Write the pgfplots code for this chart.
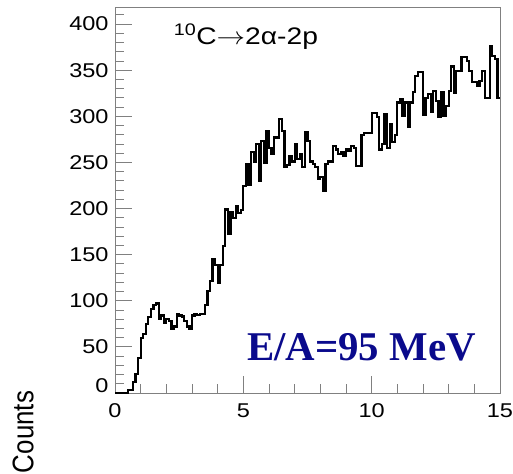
\documentclass[border=0pt]{standalone}
\usepackage{fontspec}
\setmainfont{Liberation Sans}[FakeStretch=1.18]
\newfontfamily\plainsans{Liberation Sans}
\newfontfamily\serifface{Liberation Serif}
\usepackage{graphicx}
\usepackage{pgfplots}
\usepackage{pgfplotstable}
\pgfplotsset{compat=1.18}
\definecolor{axisgray}{gray}{0.5}
\definecolor{energyblue}{RGB}{10,10,140}

% counts per 0.1 bin (left bin edge, content); last row closes the final bin
\pgfplotstableread{
x y
0.0 0
0.1 0
0.2 0
0.3 0
0.4 0
0.5 3
0.6 3
0.7 12
0.8 21
0.9 38
1.0 60
1.1 64
1.2 75
1.3 82
1.4 91
1.5 95
1.6 97
1.7 80
1.8 84
1.9 76
2.0 80
2.1 78
2.2 70
2.3 72
2.4 86
2.5 84
2.6 83
2.7 78
2.8 72
2.9 70
3.0 84
3.1 86
3.2 85
3.3 86
3.4 86
3.5 95
3.6 111
3.7 121
3.8 145
3.9 139
4.0 119
4.1 139
4.2 159
4.3 199
4.4 172
4.5 196
4.6 190
4.7 203
4.8 195
4.9 198
5.0 224
5.1 248
5.2 226
5.3 261
5.4 251
5.5 270
5.6 230
5.7 273
5.8 250
5.9 284
6.0 266
6.1 259
6.2 277
6.3 277
6.4 297
6.5 284
6.6 245
6.7 247
6.8 257
6.9 251
7.0 270
7.1 254
7.2 259
7.3 245
7.4 283
7.5 273
7.6 251
7.7 248
7.8 245
7.9 232
8.0 234
8.1 219
8.2 248
8.3 251
8.4 251
8.5 268
8.6 264
8.7 259
8.8 261
8.9 257
9.0 264
9.1 262
9.2 268
9.3 266
9.4 246
9.5 246
9.6 280
9.7 282
9.8 282
9.9 282
10.0 304
10.1 304
10.2 299
10.3 264
10.4 270
10.5 302
10.6 266
10.7 291
10.8 272
10.9 280
11.0 315
11.1 319
11.2 300
11.3 315
11.4 289
11.5 315
11.6 326
11.7 344
11.8 348
11.9 348
12.0 302
12.1 320
12.2 324
12.3 305
12.4 327
12.5 317
12.6 299
12.7 326
12.8 300
12.9 311
13.0 327
13.1 354
13.2 325
13.3 349
13.4 349
13.5 364
13.6 364
13.7 360
13.8 349
13.9 337
14.0 337
14.1 333
14.2 338
14.3 349
14.4 320
14.5 320
14.6 376
14.7 365
14.8 362
14.9 320
15.0 320
}\spectrum

\begin{document}
\begin{tikzpicture}
\begin{axis}[
  at={(0,0)}, anchor=south west,
  scale only axis, width=385bp, height=386bp,
  xmin=0, xmax=15, ymin=0, ymax=418.5,
  xtick={0,5,10,15}, minor xtick={0,1,...,15},
  ytick={50,100,...,400}, minor ytick={0,10,...,410},
  extra y ticks={0},
  extra y tick style={yticklabel style={yshift=7bp}},
  xtick pos=bottom, ytick pos=left, tick align=inside,
  major tick length=17bp, minor tick length=9bp,
  axis line style={axisgray, line width=0.8bp},
  every tick/.style={axisgray, line width=0.8bp},
  tick label style={font=\fontsize{20}{24}\selectfont},
  xticklabel style={yshift=-7bp},
  yticklabel style={xshift=-3bp},
  /pgf/number format/assume math mode=true,
  clip=false,
]
\addplot[const plot, black, line width=2.2bp] table {\spectrum};
\node[anchor=base, font=\fontsize{24}{28}\selectfont] at (axis cs:5.1,378)
  {\textsuperscript{10}C\scalebox{1.15}[1]{$\rightarrow$}2α-2p};
\node[anchor=base, font=\serifface\bfseries\fontsize{41}{48}\selectfont, text=energyblue] at (axis cs:9.6,35.5) {E/A=95 MeV};
\end{axis}
\node[rotate=90, font=\plainsans\fontsize{26}{30}\selectfont] at (-92bp,-39bp) {\scalebox{1}[1.15]{Counts}};
\pgfresetboundingbox
\path[use as bounding box] (-115bp,-81bp) rectangle (398bp,393bp);
\end{tikzpicture}
\end{document}
